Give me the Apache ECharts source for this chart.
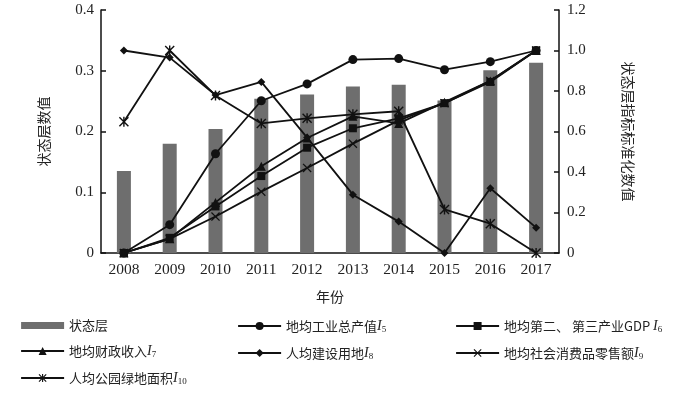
<!DOCTYPE html>
<html>
<head>
<meta charset="utf-8">
<script src="https://cdn.jsdelivr.net/npm/echarts@6/dist/echarts.min.js"></script>
<style>html,body{margin:0;padding:0;background:#fff}#c{width:700px;height:394px}</style>
</head>
<body>
<div id="c"></div>
<script>
// ---- data ----
var years = ['2008','2009','2010','2011','2012','2013','2014','2015','2016','2017'];
var stateLayer = [0.135, 0.180, 0.204, 0.254, 0.261, 0.274, 0.277, 0.251, 0.301, 0.313];
var I5  = [0, 0.14, 0.49, 0.752, 0.835, 0.955, 0.96, 0.905, 0.945, 1.0];
var I6  = [0, 0.075, 0.23, 0.38, 0.52, 0.616, 0.665, 0.74, 0.845, 1.0];
var I7  = [0, 0.07, 0.25, 0.428, 0.568, 0.675, 0.64, 0.745, 0.85, 1.0];
var I8  = [1.0, 0.965, 0.78, 0.845, 0.57, 0.288, 0.155, 0, 0.32, 0.125];
var I9  = [0, 0.07, 0.18, 0.303, 0.42, 0.54, 0.655, 0.74, 0.85, 1.0];
var I10 = [0.648, 1.0, 0.778, 0.64, 0.665, 0.685, 0.70, 0.215, 0.145, 0];
var leftTicks = [0, 0.1, 0.2, 0.3, 0.4];
var rightTicks = [0, 0.2, 0.4, 0.6, 0.8, 1.0, 1.2];
var barName = '状态层';
var lineNames = ['地均工业总产值I5', '地均第二、 第三产业GDP I6', '地均财政收入I7', '人均建设用地I8', '地均社会消费品零售额I9', '人均公园绿地面积I10'];

var X_PATH = 'path://M1,0L5,4L9,0L10,1L6,5L10,9L9,10L5,6L1,10L0,9L4,5L0,1Z';
var AST_PATH = 'path://M1,0L5,4L9,0L10,1L6,5L10,9L9,10L5,6L1,10L0,9L4,5L0,1Z M4.3,0L5.7,0L5.7,10L4.3,10Z';

var serif = 'Liberation Serif';
var cjk = 'Noto Sans CJK SC';

function lineSeries(name, data, symbol, size) {
  return {
    type: 'line', name: name, data: data, yAxisIndex: 1,
    symbol: symbol, symbolSize: size, showSymbol: true,
    lineStyle: { color: '#111', width: 1.8 },
    itemStyle: { color: '#111', borderWidth: 0 },
    z: 3, animation: false
  };
}

function fmtLegend(name) {
  var m = name.match(/^(.*?)(\s?)I(\d+)$/);
  if (!m) return '{t|' + name + '}';
  return '{t|' + m[1] + m[2] + '}{i|I}{s|' + m[3] + '}';
}
var legendRich = {
  t: { fontFamily: cjk, fontSize: 13, color: '#222', lineHeight: 16, verticalAlign: 'middle' },
  i: { fontFamily: serif, fontStyle: 'italic', fontSize: 14, color: '#222', lineHeight: 16, verticalAlign: 'middle' },
  s: { fontFamily: serif, fontSize: 9, color: '#222', lineHeight: 16, verticalAlign: 'bottom', padding: [6, 0, 0, 0] }
};
function legendCfg(left, names) {
  return {
    left: left, top: 319, orient: 'vertical', itemGap: 12, padding: 0,
    itemWidth: 43, itemHeight: 10,
    formatter: fmtLegend,
    textStyle: { rich: legendRich, fontFamily: cjk, fontSize: 13, color: '#222' },
    lineStyle: { width: 2.2 },
    data: names
  };
}

function fmtTick(v) { return v === 0 ? '0' : v.toFixed(1); }

var chart = echarts.init(document.getElementById('c'), null, { renderer: 'canvas' });
chart.setOption({
  animation: false,
  backgroundColor: '#fff',
  grid: { left: 101, right: 141, top: 10, bottom: 141, containLabel: false },
  legend: [
    legendCfg(20, [{ name: barName, icon: 'path://M0,0L43,0L43,7L0,7Z' }, lineNames[2], lineNames[5]]),
    legendCfg(237, [lineNames[0], lineNames[3]]),
    legendCfg(455, [lineNames[1], lineNames[4]])
  ],
  xAxis: {
    type: 'category', data: years, boundaryGap: true,
    axisLine: { lineStyle: { color: '#111', width: 1.5 } },
    axisTick: { show: false },
    axisLabel: { fontFamily: serif, fontSize: 15.5, color: '#222', margin: 9 },
    name: '年份', nameLocation: 'middle', nameGap: 37,
    nameTextStyle: { fontFamily: cjk, fontSize: 14, color: '#222' }
  },
  yAxis: [
    {
      type: 'value', min: leftTicks[0], max: leftTicks[leftTicks.length - 1], interval: 0.1,
      position: 'left',
      axisLine: { show: true, lineStyle: { color: '#111', width: 1.5 } },
      axisTick: { show: true, inside: true, length: 5, lineStyle: { color: '#111', width: 1.5 } },
      splitLine: { show: false },
      axisLabel: { fontFamily: serif, fontSize: 15, color: '#222', margin: 7, formatter: fmtTick },
      name: '状态层数值', nameLocation: 'middle', nameGap: 50, nameRotate: 90,
      nameTextStyle: { fontFamily: cjk, fontSize: 14, color: '#222' }
    },
    {
      type: 'value', min: rightTicks[0], max: rightTicks[rightTicks.length - 1], interval: 0.2,
      position: 'right',
      axisLine: { show: true, lineStyle: { color: '#111', width: 1.5 } },
      axisTick: { show: true, inside: true, length: 5, lineStyle: { color: '#111', width: 1.5 } },
      splitLine: { show: false },
      axisLabel: { fontFamily: serif, fontSize: 15, color: '#222', margin: 8, formatter: fmtTick },
      name: '状态层指标标准化数值', nameLocation: 'middle', nameGap: 62, nameRotate: -90,
      nameTextStyle: { fontFamily: cjk, fontSize: 14, color: '#222' }
    }
  ],
  series: [
    {
      type: 'bar', name: barName, data: stateLayer, yAxisIndex: 0, barWidth: 14,
      itemStyle: { color: '#6e6e6e' }, z: 2, animation: false
    },
    lineSeries(lineNames[0], I5, 'circle', 9),
    lineSeries(lineNames[1], I6, 'rect', 8),
    lineSeries(lineNames[2], I7, 'triangle', 9),
    lineSeries(lineNames[3], I8, 'diamond', 8),
    lineSeries(lineNames[4], I9, X_PATH, 9),
    lineSeries(lineNames[5], I10, AST_PATH, 10)
  ]
});
</script>
</body>
</html>
